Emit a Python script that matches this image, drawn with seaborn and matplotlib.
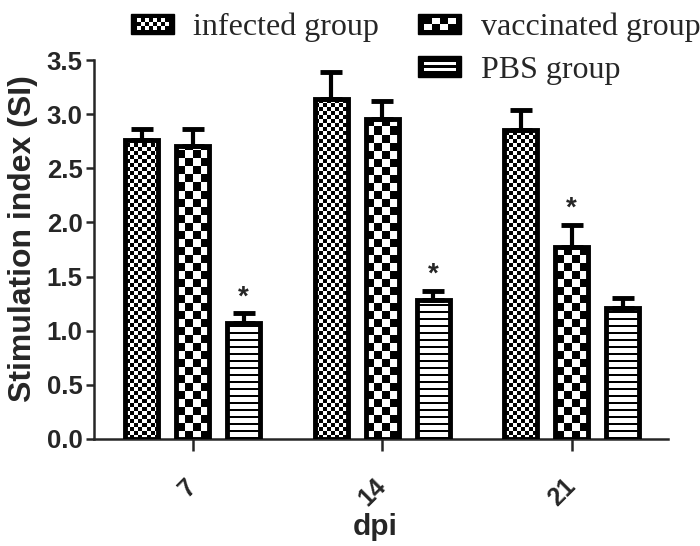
import numpy as np
import pandas as pd
import matplotlib
matplotlib.use("Agg")
import matplotlib.pyplot as plt
import seaborn as sns
from matplotlib.patches import Rectangle
from matplotlib.legend_handler import HandlerBase

# data
days = ["7", "14", "21"]
groups = ["infected group", "vaccinated group", "PBS group"]
infected_si = [2.76, 3.14, 2.85]
vaccinated_si = [2.71, 2.96, 1.77]
pbs_si = [1.07, 1.28, 1.21]
infected_err = [0.10, 0.25, 0.19]
vaccinated_err = [0.15, 0.16, 0.21]
pbs_err = [0.09, 0.09, 0.09]
# (group, day) pairs marked with an asterisk
significant = [("PBS group", "7"), ("PBS group", "14"), ("vaccinated group", "21")]

means = {"infected group": infected_si, "vaccinated group": vaccinated_si, "PBS group": pbs_si}
errs = {"infected group": infected_err, "vaccinated group": vaccinated_err, "PBS group": pbs_err}

df = pd.DataFrame({
    "dpi": days * 3,
    "si": infected_si + vaccinated_si + pbs_si,
    "group": [g for g in groups for _ in days],
})

# fill pattern per group: ("checker", square px) or ("stripes", period px)
patterns = {"infected group": ("checker", 4), "vaccinated group": ("checker", 8), "PBS group": ("stripes", 7)}

sns.set_style("ticks")
plt.rcParams["font.family"] = ["Liberation Sans", "DejaVu Sans"]

fig = plt.figure(figsize=(7, 5.46), dpi=100)
ax = fig.add_axes([0.134, 0.196, 0.82, 0.694])

sns.barplot(data=df, x="dpi", y="si", hue="group", order=days, hue_order=groups,
            palette=["white"] * 3, edgecolor="black", linewidth=3.5, width=0.807, gap=0.35,
            errorbar=None, legend=False, ax=ax, zorder=3)

ax.set_xlim(-0.522, 2.507)
ax.set_ylim(0, 3.5)
yt = np.arange(0, 3.51, 0.5)
ax.set_yticks(yt)
ax.set_yticklabels([f"{v:.1f}" for v in yt], fontsize=18.5, fontweight="bold")
ax.set_xticks(range(len(days)))
ax.set_xticklabels(days, fontsize=18, fontweight="bold", rotation=45,
                   ha="right", va="center", rotation_mode="anchor")
ax.tick_params(axis="y", length=6, width=1.8, pad=2)
ax.tick_params(axis="x", length=8.5, width=1.8, pad=23)
for s in ["left", "bottom"]:
    ax.spines[s].set_linewidth(1.8)
sns.despine(ax=ax)

ax.set_ylabel("Stimulation index (SI)", fontsize=23, fontweight="bold")
ax.set_xlabel("dpi", fontsize=21.5, fontweight="bold")
ax.yaxis.set_label_coords(-0.097, 0.53)
ax.xaxis.set_label_coords(0.49, -0.195)
ax.xaxis.label.set_va("top")

fig.canvas.draw()
to_px = ax.transData
to_data = ax.transData.inverted()


def pattern_array(kind, size, w_px, h_px):
    if kind == "checker":
        nx = max(1, int(round(w_px / size)))
        ny = int(np.ceil(h_px / size)) + 1
        arr = (np.add.outer(np.arange(ny), np.arange(nx)) % 2).astype(float)
        return arr, nx * size, ny * size
    n = int(np.ceil(h_px / size)) + 1
    rows = []
    for _ in range(n):
        rows += [1.0] * (size - 2) + [0.0, 0.0]
    arr = np.array(rows)[:, None] * np.ones((1, 4))
    return arr, w_px, len(rows)


for cont, grp in zip(ax.containers, groups):
    kind, size = patterns[grp]
    for bar, day, err in zip(cont, days, errs[grp]):
        bar.set_facecolor("none")
        x0, y0 = bar.get_x(), bar.get_y()
        w, h = bar.get_width(), bar.get_height()
        (px0, py0), (px1, py1) = to_px.transform([(x0, y0), (x0 + w, y0 + h)])
        arr, aw, ah = pattern_array(kind, size, px1 - px0, py1 - py0)
        cx = (px0 + px1) / 2
        (ex0, ey0), (ex1, ey1) = to_data.transform([(cx - aw / 2, py0), (cx + aw / 2, py0 + ah)])
        im = ax.imshow(arr[::-1], cmap="gray", vmin=0, vmax=1, extent=[ex0, ex1, ey0, ey1],
                       origin="lower", interpolation="nearest", aspect="auto", zorder=2)
        im.set_clip_path(bar)
        ax.errorbar(x0 + w / 2, h, yerr=[[0], [err]], fmt="none", ecolor="black",
                    elinewidth=3, capsize=8, capthick=3.5, zorder=2.5)
        if (grp, day) in significant:
            ax.text(x0 + w / 2, h + err + 0.03, "*", ha="center", va="bottom",
                    fontsize=20, fontweight="bold")

ax.set_xlim(-0.522, 2.507)
ax.set_ylim(0, 3.5)


class PatternHandler(HandlerBase):
    def create_artists(self, legend, orig_handle, xdescent, ydescent, width, height, fontsize, trans):
        kind, size = orig_handle.pattern
        arts = [Rectangle((-xdescent, -ydescent), width, height, facecolor="black",
                          edgecolor="black", transform=trans)]
        bx, by = 4, 3
        iw, ih = width - 2 * bx, height - 2 * by
        if kind == "checker":
            s = size * 0.72
            nx, ny = int(round(iw / s)), max(1, int(round(ih / s)))
            sw, sh = iw / nx, ih / ny
            for i in range(nx):
                for j in range(ny):
                    if (i + j) % 2 == 0:
                        arts.append(Rectangle((-xdescent + bx + i * sw, -ydescent + by + j * sh), sw, sh,
                                              facecolor="white", edgecolor="none", transform=trans))
        elif kind == "stripes":
            for j in range(2):
                arts.append(Rectangle((-xdescent + bx, -ydescent + by + j * ih / 2 + 1), iw, ih / 2 - 2,
                                      facecolor="white", edgecolor="none", transform=trans))
        return arts


class PatternKey:
    def __init__(self, pattern):
        self.pattern = pattern


handles = [PatternKey(patterns["infected group"]), Rectangle((0, 0), 0, 0, visible=False),
           PatternKey(patterns["vaccinated group"]), PatternKey(patterns["PBS group"])]
labels = ["infected group", "", "vaccinated group", "PBS group"]
fig.legend(handles, labels, handler_map={PatternKey: PatternHandler()}, ncol=2,
           loc="upper left", bbox_to_anchor=(0.169, 1.0), frameon=False,
           prop={"family": "Liberation Serif", "size": 23},
           handlelength=1.35, handleheight=0.63, handletextpad=0.6,
           columnspacing=1.22, labelspacing=0.42, borderaxespad=0)

fig.savefig("out.png", dpi=100)
